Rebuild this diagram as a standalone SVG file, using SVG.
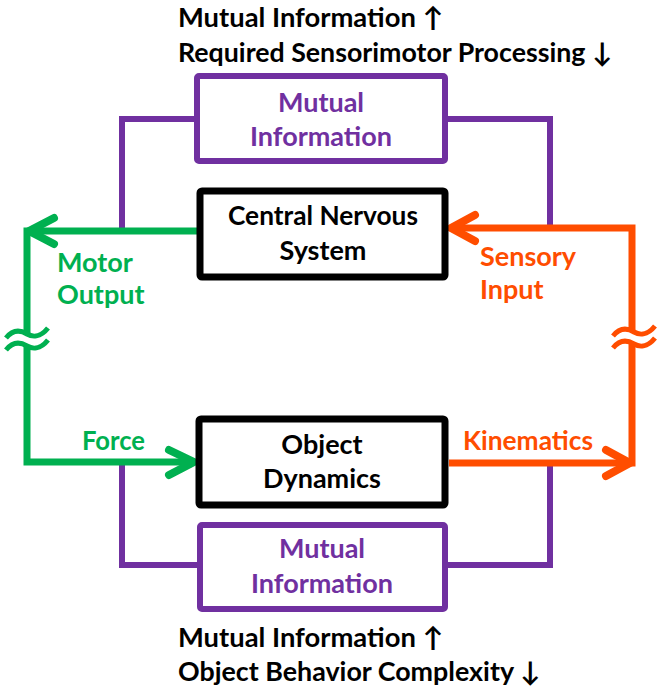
<svg xmlns="http://www.w3.org/2000/svg" width="664" height="693" viewBox="0 0 664 693">
<style>
  text { font-family: Lato, "Open Sans", "Liberation Sans", sans-serif; font-weight: bold; font-size: 27px; }
  .blk { fill: #000; }
  .pur { fill: #7030A0; }
  .grn { fill: #00B050; }
  .org { fill: #FF4D00; }
  .mid { text-anchor: middle; }
  .boxK { fill: #fff; stroke: #000; stroke-width: 7; }
  .boxP { fill: #fff; stroke: #7030A0; stroke-width: 6; }
  .ln { fill: none; stroke-linejoin: miter; }
  .g { stroke: #00B050; stroke-width: 7; }
  .o { stroke: #FF4D00; stroke-width: 7; }
  .p { stroke: #7030A0; stroke-width: 6; }
  .head { fill: none; stroke-width: 8; stroke-linecap: round; stroke-linejoin: round; }
  .gap { fill: none; stroke: #fff; stroke-width: 8; }
  .wave { fill: none; stroke-width: 5; stroke-linecap: butt; }
</style>
<defs>
  <path id="wv" d="M-21,4 C-13,-6 -5,-3 0,0 S13,4 21,-6"/>
</defs>
<g id="connectors">
  <path class="ln p" d="M198,119 H122 V229"/>
  <path class="ln p" d="M444,119 H550 V226"/>
  <path class="ln p" d="M122,465 V565 H200"/>
  <path class="ln p" d="M445,565 H550 V466"/>
  <path class="ln g" d="M197,231 H27 V462 H193"/>
  <path class="head g" d="M54,218 L29,231 L54,244"/>
  <path class="head g" d="M169,450 L194,462 L169,475"/>
  <path class="ln o" d="M450,228 H632 V463 H449"/>
  <path class="head o" d="M475,215 L451,228 L475,241"/>
  <path class="head o" d="M606,450 L630,463 L606,476"/>
  <g transform="translate(27,340)">
    <use href="#wv" class="gap"/>
    <use href="#wv" class="wave" stroke="#00B050" transform="translate(0,-6)"/>
    <use href="#wv" class="wave" stroke="#00B050" transform="translate(0,6)"/>
  </g>
  <g transform="translate(634,338)">
    <use href="#wv" class="gap"/>
    <use href="#wv" class="wave" stroke="#FF4D00" transform="translate(0,-6)"/>
    <use href="#wv" class="wave" stroke="#FF4D00" transform="translate(0,6)"/>
  </g>
</g>
<g id="top-caption">
  <text class="blk" x="178" y="27" textLength="265" lengthAdjust="spacingAndGlyphs">Mutual Information ↑</text>
  <text class="blk" x="178" y="62" textLength="434" lengthAdjust="spacingAndGlyphs">Required Sensorimotor Processing ↓</text>
</g>
<g id="mi-top">
  <rect class="boxP" x="197" y="76" width="248" height="85" rx="2"/>
  <text class="pur mid" x="321" y="112">Mutual</text>
  <text class="pur mid" x="321" y="146">Information</text>
</g>
<g id="cns">
  <rect class="boxK" x="200" y="191" width="245" height="86" rx="2"/>
  <text class="blk mid" x="323" y="225" textLength="190" lengthAdjust="spacingAndGlyphs">Central Nervous</text>
  <text class="blk mid" x="323" y="260">System</text>
</g>
<g id="motor-output">
  <text class="grn" x="57" y="272">Motor</text>
  <text class="grn" x="57" y="304">Output</text>
</g>
<g id="sensory-input">
  <text class="org" x="480" y="266">Sensory</text>
  <text class="org" x="480" y="299">Input</text>
</g>
<g id="force">
  <text class="grn" x="82" y="450" textLength="63" lengthAdjust="spacingAndGlyphs">Force</text>
</g>
<g id="kinematics">
  <text class="org" x="463" y="450" textLength="130" lengthAdjust="spacingAndGlyphs">Kinematics</text>
</g>
<g id="object-dynamics">
  <rect class="boxK" x="199" y="419" width="246" height="86" rx="2"/>
  <text class="blk mid" x="322" y="454">Object</text>
  <text class="blk mid" x="322" y="488">Dynamics</text>
</g>
<g id="mi-bottom">
  <rect class="boxP" x="200" y="525" width="245" height="84" rx="2"/>
  <text class="pur mid" x="322" y="558">Mutual</text>
  <text class="pur mid" x="322" y="593">Information</text>
</g>
<g id="bottom-caption">
  <text class="blk" x="178" y="647" textLength="265" lengthAdjust="spacingAndGlyphs">Mutual Information ↑</text>
  <text class="blk" x="178" y="681" textLength="362" lengthAdjust="spacingAndGlyphs">Object Behavior Complexity ↓</text>
</g>
</svg>
